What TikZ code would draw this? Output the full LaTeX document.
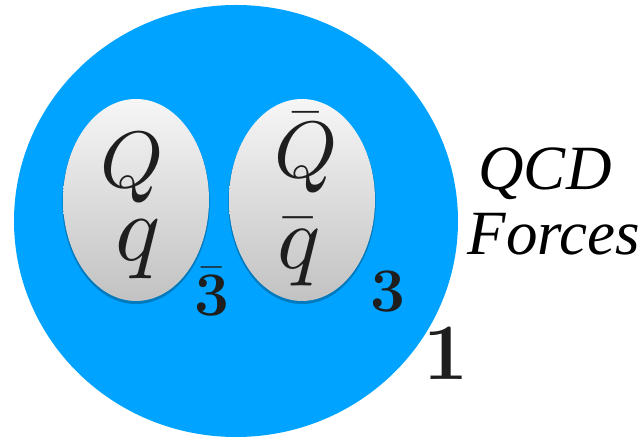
\RequirePackage{fix-cm}
\documentclass[tikz,border=0pt]{standalone}
\usepackage[no-math]{fontspec}
\newfontfamily\forcefont{Liberation Serif}[ItalicFont={Liberation Serif Italic}]
\font\flavbig=cmmi10 at 80pt
\font\flavq=cmmi10 at 94pt
\font\flavqb=cmmi10 at 90pt
\usepackage{xcolor}
\definecolor{qcdblue}{HTML}{00A3FF}
\definecolor{shellgray}{HTML}{C2C2C2}
\definecolor{shellwhite}{HTML}{F6F6F6}
\definecolor{inkblack}{HTML}{1E1E1E}
\usetikzlibrary{shapes.geometric,shadows}

\begin{document}
\begin{tikzpicture}[
  x=1pt, y=1pt,
  blob/.style={ellipse, fill=qcdblue, inner sep=0pt,
               minimum width=444pt, minimum height=432pt},
  pair/.style={ellipse, inner sep=0pt, minimum width=146pt, minimum height=202pt,
               top color=shellwhite, bottom color=shellgray,
               general shadow={fill=black, opacity=.25, shadow yshift=-2pt, shadow scale=1.01}},
  flav/.style={inner sep=0pt, anchor=base, text=inkblack},
  rep/.style={inner sep=0pt, anchor=base, text=inkblack, font=\fontsize{62}{70}\selectfont},
  force/.style={inner sep=0pt, anchor=base, font=\fontsize{63}{72}\selectfont\forcefont\itshape}
]
  \useasboundingbox (0,0) rectangle (642,438);

  % colour singlet and the two antitriplet/triplet clusters
  \node[blob] (singlet) at (236,217) {};
  \node[pair] (diq) at (136,238) {};
  \node[pair] (adiq) at (302,238) {};

  % flavour content
  \node[flav] (Qh) at (132,250) {\flavbig Q};
  \node[flav] (ql) at (136,177) {\flavq q};
  \node[flav, font=\fontsize{80}{90}\selectfont] (Qbar) at (306,260) {$\bar{\hbox{\flavbig Q}}$};
  \node[flav, font=\fontsize{90}{100}\selectfont] (qbar) at (298,169) {$\bar{\hbox{\flavqb q}}$};

  % representations
  \node[rep] (three bar) at (212,122) {$\bar{\mathbf{3}}$};
  \node[rep] (three) at (388,126) {$\mathbf{3}$};
  \node[rep, font=\fontsize{80}{90}\selectfont] (one) at (446,58) {$\mathbf{1}$};

  \node[force] (qcd) at (545,248) {QCD};
  \node[force] (forces) at (554,183) {Forces};
\end{tikzpicture}
\end{document}
